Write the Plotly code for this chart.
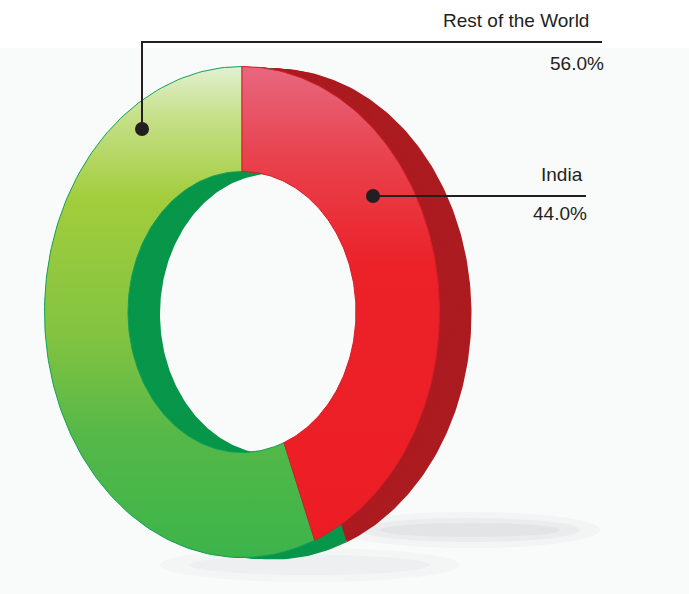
import numpy as np
import plotly.graph_objects as go

# ---------------- data ----------------
categories = ["India", "Rest of the World"]
values = [44.0, 56.0]
pct_labels = [f"{v:.1f}%" for v in values]

# ---------------- style / geometry ----------------
W, H = 689, 594
CX, CY = 242, 312
RX_OUT, RY_OUT = 197.5, 245.5
RX_IN, RY_IN = 114, 140.5
DEPTH_X, DEPTH_Y = 32, 2
N_SWEEP = 12

face_scales = {
    "India": [[0, "#e8677f"], [0.18, "#e8434f"], [0.4, "#ec2229"], [1, "#ed1c24"]],
    "Rest of the World": [[0, "#e2f0d2"], [0.1, "#c6e08a"], [0.27, "#a2cd3c"],
                          [0.55, "#82c341"], [0.75, "#55b848"], [1, "#3cb44a"]],
}
side_colors = {"India": "#ab1b20", "Rest of the World": "#07964a"}
edge_colors = {"India": "#d51e27", "Rest of the World": "#10a058"}
TEXT_COLOR = "#231f20"
FONT = "Liberation Sans, Arial, sans-serif"
FONT_SIZE = 19


def ring_slice(a0, a1, dx=0.0, dy=0.0, n=160):
    t = np.linspace(a0, a1, n)
    xo = CX + dx + RX_OUT * np.sin(t)
    yo = CY + dy - RY_OUT * np.cos(t)
    tr = t[::-1]
    xi = CX + dx + RX_IN * np.sin(tr)
    yi = CY + dy - RY_IN * np.cos(tr)
    x = np.concatenate([xo, xi, xo[:1]])
    y = np.concatenate([yo, yi, yo[:1]])
    return x, y


total = sum(values)
bounds = []
acc = 0.0
for v in values:
    a0 = acc / total * 2 * np.pi
    acc += v
    a1 = acc / total * 2 * np.pi
    bounds.append((a0, a1))

fig = go.Figure()

# depth (side walls): red first, green over it
for i in [0, 1]:
    cat = categories[i]
    a0, a1 = bounds[i]
    for k in range(N_SWEEP, 0, -1):
        x, y = ring_slice(a0, a1, dx=DEPTH_X * k / N_SWEEP, dy=DEPTH_Y * k / N_SWEEP)
        fig.add_trace(go.Scatter(x=x, y=y, mode="lines", fill="toself",
                                 fillcolor=side_colors[cat],
                                 line=dict(width=0, color=side_colors[cat]),
                                 hoverinfo="skip", showlegend=False))

# top faces
for i in [1, 0]:
    cat = categories[i]
    a0, a1 = bounds[i]
    x, y = ring_slice(a0, a1)
    fig.add_trace(go.Scatter(
        x=x, y=y, mode="lines", fill="toself", name=cat,
        line=dict(width=1, color=edge_colors[cat]),
        fillgradient=dict(type="vertical", colorscale=face_scales[cat],
                          start=CY - RY_OUT, stop=CY + RY_OUT),
        hovertemplate=f"{cat}: {pct_labels[i]}<extra></extra>",
        showlegend=False))

shapes = [
    # faint background panel
    dict(type="rect", xref="x", yref="y", x0=0, x1=W, y0=48, y1=H,
         fillcolor="#f9fafa", line=dict(width=0), layer="below"),
]
# soft, blurred shadow streaks (stacked translucent ellipses)
for (x0, x1, y0, y1, col, op) in [
    (340, 600, 512, 548, "#d6d8da", 0.18),
    (360, 580, 518, 542, "#d0d2d4", 0.22),
    (380, 560, 523, 537, "#cbcdcf", 0.25),
    (160, 460, 548, 582, "#dcdedf", 0.16),
    (190, 430, 555, 575, "#d6d8da", 0.2),
]:
    shapes.append(dict(type="circle", xref="x", yref="y", x0=x0, x1=x1, y0=y0, y1=y1,
                       fillcolor=col, opacity=op, line=dict(width=0), layer="below"))

shapes += [
    # leader lines
    dict(type="path", xref="x", yref="y", path="M 142 129 L 142 42 L 602 42",
         line=dict(color=TEXT_COLOR, width=2)),
    dict(type="path", xref="x", yref="y", path="M 373 196 L 586 196",
         line=dict(color=TEXT_COLOR, width=2)),
    dict(type="circle", xref="x", yref="y", x0=135, x1=149, y0=122, y1=136,
         fillcolor=TEXT_COLOR, line=dict(width=0)),
    dict(type="circle", xref="x", yref="y", x0=366, x1=380, y0=189, y1=203,
         fillcolor=TEXT_COLOR, line=dict(width=0)),
]

label_pos = {
    "Rest of the World": ((591, 20.5), (606, 63)),
    "India": ((585, 174.5), (589, 213)),
}
annotations = []
for i, cat in enumerate(categories):
    (nx, ny), (px, py) = label_pos[cat]
    annotations.append(dict(x=nx, y=ny, xref="x", yref="y", text=cat,
                            showarrow=False, xanchor="right", yanchor="middle",
                            font=dict(family=FONT, size=FONT_SIZE, color=TEXT_COLOR)))
    annotations.append(dict(x=px, y=py, xref="x", yref="y", text=pct_labels[i],
                            showarrow=False, xanchor="right", yanchor="middle",
                            font=dict(family=FONT, size=FONT_SIZE, color=TEXT_COLOR)))

fig.update_layout(
    width=W, height=H, autosize=False,
    margin=dict(l=0, r=0, t=0, b=0, pad=0),
    paper_bgcolor="white", plot_bgcolor="white",
    xaxis=dict(range=[0, W], visible=False, fixedrange=True),
    yaxis=dict(range=[H, 0], visible=False, fixedrange=True),
    shapes=shapes, annotations=annotations, showlegend=False,
)

fig.write_html("out.html")
